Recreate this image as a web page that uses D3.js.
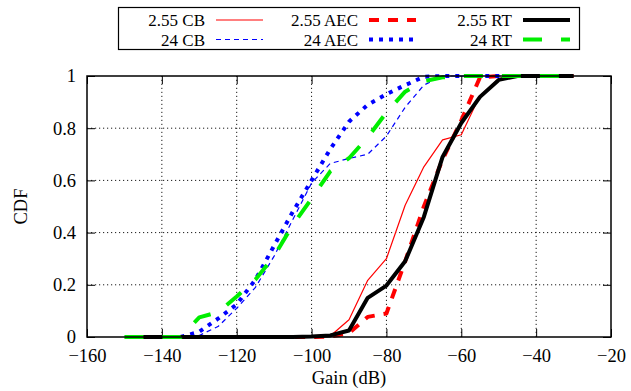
<!DOCTYPE html>
<html>
<head>
<meta charset="utf-8">
<style>
    body { margin: 0; background: #fff; }
    svg text { font-family: "Liberation Serif", "Times New Roman", Times, "DejaVu Serif", serif !important; fill: #000; }
    .tick text { font-size: 18.5px; }
    .domain { display: none; }
    .grid line { stroke: #000; stroke-width: 0.9; stroke-dasharray: 1.2,2.8; }
</style>
</head>
<body>
<svg width="631" height="391"></svg>
<script src="https://d3js.org/d3.v7.min.js"></script>
<script>
// CDF of gain, sampled every 5 dB
let gain255 = [-145,-140,-135,-130,-125,-120,-115,-110,-105,-100,-95,-90,-85,-80,-75,-70,-65,-60,-55,-50,-45,-40,-35,-30];
let cb255  = [0,0,0,0,0,0,0,0,0,0.001,0.004,0.066,0.217,0.3,0.505,0.652,0.755,0.775,0.925,0.99,1,1,1,1];
let aec255 = [0,0,0,0,0,0,0,0,0,0,0.002,0.015,0.077,0.09,0.29,0.5,0.68,0.83,0.995,1,1,1,1,1];
let rt255  = [0,0,0,0,0,0,0,0,0,0.002,0.006,0.025,0.15,0.197,0.29,0.46,0.69,0.82,0.92,0.985,1,1,1,1];

let gain24 = [-150,-145,-140,-135,-130,-125,-120,-115,-110,-105,-100,-95,-90,-85,-80,-75,-70,-65,-60,-55,-50,-45,-40,-35,-30];
let cb24   = [null,null,null,0,0.006,0.04,0.11,0.19,0.31,0.45,0.59,0.665,0.684,0.70,0.77,0.88,0.965,1,1,1,1,1,1,1,1];
let aec24  = [null,null,null,0,0.02,0.07,0.125,0.22,0.35,0.48,0.6,0.72,0.825,0.89,0.93,0.965,0.997,1,1,1,1,1,1,1,1];
let rt24   = [0,0,0,0,0.075,0.095,0.155,0.22,0.31,0.43,0.53,0.635,0.685,0.765,0.86,0.94,0.98,0.995,1,1,1,1,1,1,1];

let xTicks = [-160,-140,-120,-100,-80,-60,-40,-20];
let yTicks = [0,0.2,0.4,0.6,0.8,1];

let series = [
    { name: "2.55 CB",  gain: gain255, cdf: cb255,  color: "#ff0000", w: 1.2, dash: null },
    { name: "24 CB",    gain: gain24,  cdf: cb24,   color: "#0000ff", w: 1.2, dash: "5,4" },
    { name: "2.55 AEC", gain: gain255, cdf: aec255, color: "#ff0000", w: 4,   dash: "10,9" },
    { name: "24 AEC",   gain: gain24,  cdf: aec24,  color: "#0000ff", w: 4,   dash: "4,6" },
    { name: "2.55 RT",  gain: gain255, cdf: rt255,  color: "#000000", w: 4,   dash: null },
    { name: "24 RT",    gain: gain24,  cdf: rt24,   color: "#00ee00", w: 4,   dash: "19,19" }
];

let svg = d3.select("svg");
let margin = { top: 76, right: 20, bottom: 54, left: 87 };
let width = 631, height = 391;

let x = d3.scaleLinear().domain([-160, -20]).range([margin.left, width - margin.right]);
let y = d3.scaleLinear().domain([0, 1]).range([height - margin.bottom, margin.top]);

// grid
svg.append("g").attr("class", "grid")
    .selectAll("line").data(xTicks.slice(1, -1)).join("line")
    .attr("x1", d => x(d)).attr("x2", d => x(d))
    .attr("y1", y(0)).attr("y2", y(1));
svg.append("g").attr("class", "grid")
    .selectAll("line").data(yTicks.slice(1, -1)).join("line")
    .attr("y1", d => y(d)).attr("y2", d => y(d))
    .attr("x1", x(-160)).attr("x2", x(-20));

// axes, ticks pointing inward plus mirrored ones
svg.append("g").attr("transform", `translate(0,${y(0)})`)
    .call(d3.axisBottom(x).tickValues(xTicks).tickSize(-8).tickPadding(12)
        .tickFormat(d => d3.format("d")(d).replace("-", "\u2212")));
svg.append("g").attr("transform", `translate(0,${y(1)})`)
    .call(d3.axisTop(x).tickValues(xTicks).tickSize(-8).tickFormat(""));
svg.append("g").attr("transform", `translate(${x(-160)},0)`)
    .call(d3.axisLeft(y).tickValues(yTicks).tickSize(-8).tickPadding(11)
        .tickFormat(d => d === 0 || d === 1 ? d : d.toFixed(1)));
svg.append("g").attr("transform", `translate(${x(-20)},0)`)
    .call(d3.axisRight(y).tickValues(yTicks).tickSize(-8).tickFormat(""));
svg.selectAll(".tick line").attr("stroke", "#000");

// curves
let line = d3.line()
    .defined(d => d[1] != null)
    .x(d => x(d[0]))
    .y(d => y(d[1]));

svg.append("g").selectAll("path")
    .data(series).join("path")
    .attr("fill", "none")
    .attr("stroke", d => d.color)
    .attr("stroke-width", d => d.w)
    .attr("stroke-dasharray", d => d.dash)
    .attr("stroke-linejoin", "round")
    .attr("d", d => line(d.gain.map((g, i) => [g, d.cdf[i]])));

// border
svg.append("rect")
    .attr("x", x(-160)).attr("y", y(1))
    .attr("width", x(-20) - x(-160)).attr("height", y(0) - y(1))
    .attr("fill", "none").attr("stroke", "#000").attr("stroke-width", 1.5);

// axis titles
svg.append("text")
    .attr("x", (x(-160) + x(-20)) / 2).attr("y", 384)
    .attr("text-anchor", "middle").attr("font-size", "18.5px")
    .text("Gain (dB)");
svg.append("text")
    .attr("transform", `translate(27,${(y(0) + y(1)) / 2}) rotate(-90)`)
    .attr("text-anchor", "middle").attr("font-size", "18.5px")
    .text("CDF");

// legend
let legend = svg.append("g");
legend.append("rect")
    .attr("x", 118.5).attr("y", 7.5).attr("width", 461).attr("height", 42)
    .attr("fill", "#fff").attr("stroke", "#000").attr("stroke-width", 1.2);

let colX = [205, 358, 512];
let rowY = [20, 39.5];
series.forEach((s, i) => {
    let c = Math.floor(i / 2), r = i % 2;
    legend.append("text")
        .attr("x", colX[c]).attr("y", rowY[r] + 6)
        .attr("text-anchor", "end").attr("font-size", "17px")
        .text(s.name);
    legend.append("line")
        .attr("x1", colX[c] + 11).attr("x2", colX[c] + 58)
        .attr("y1", rowY[r]).attr("y2", rowY[r])
        .attr("stroke", s.color)
        .attr("stroke-width", s.w)
        .attr("stroke-dasharray", s.dash);
});
</script>
</body>
</html>
